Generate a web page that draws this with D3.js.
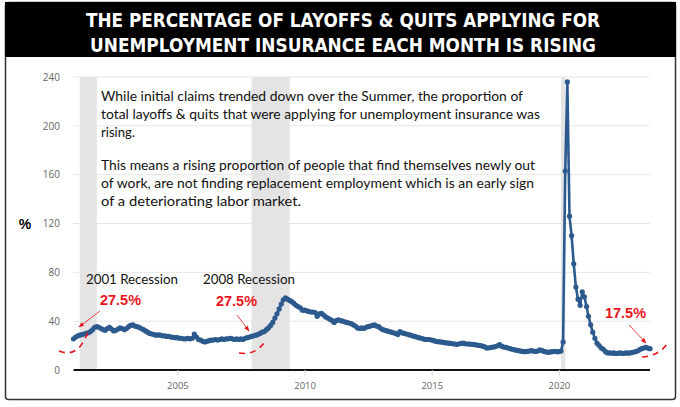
<!DOCTYPE html>
<html>
<head>
<meta charset="utf-8">
<script src="https://cdn.jsdelivr.net/npm/d3@7"></script>
<style>
  body { margin: 0; background: #fff; }
  svg { display: block; }
</style>
</head>
<body>
<div id="chart"></div>
<script>
// data: monthly share of layoffs & quits applying for UI (%), starting Dec 2000
const startMonth = new Date(2000, 11, 1);
const values = [
  25.5,
  27, 28, 28.5, 29, 29.5, 30, 30.5, 31.5, 33, 35, 35.5, 35,            // 2001
  34, 33, 32.5, 34, 35, 33.5, 32, 32.5, 33.5, 34.5, 34, 33,            // 2002
  34, 35.5, 36.5, 37, 36, 35.5, 35, 34, 33, 32, 31, 30,                // 2003
  29.5, 29, 28.5, 28.7, 28.5, 28, 28, 27.5, 27.5, 27, 26.8, 26.5,      // 2004
  26.5, 26, 26, 25.5, 25.5, 26, 25.5, 26, 29.5, 27, 25, 24.5,          // 2005
  23.5, 23, 23.5, 24, 24.5, 24.5, 25, 24.5, 25, 25.5, 25, 25.5,        // 2006
  25.5, 26, 25.5, 25, 25.5, 25, 25.5, 25, 26, 26.5, 27, 27.5,          // 2007
  28, 28.5, 29, 30, 31, 31.5, 33, 34.5, 36.5, 39, 42.5, 46,            // 2008
  50, 54, 57.5, 59, 58, 57, 56, 54.5, 53, 52, 51, 49,                  // 2009
  49, 48.5, 48, 47.5, 47.5, 47, 44, 46, 46.5, 45, 43.5, 42.5,          // 2010
  41.5, 40.5, 39, 40.5, 41, 40.5, 40, 39.5, 39, 38.5, 38, 37,          // 2011
  36, 34.5, 34, 34.5, 34, 35, 35.5, 36, 36.5, 37, 36, 35.5,            // 2012
  34, 33, 32.5, 32, 31.5, 31, 30.5, 30, 29, 31.5, 30.5, 30,            // 2013
  29.5, 29, 28.5, 28, 27.5, 27, 26.5, 26, 25.5, 25, 25, 25,            // 2014
  24.5, 24, 23.5, 23.2, 23, 22.8, 22.5, 22.2, 22, 21.8, 21.5, 21.2,    // 2015
  21, 21.5, 21.8, 22, 21.5, 21.3, 21.2, 21, 20.8, 20.5, 20.2, 20,      // 2016
  19.5, 19, 18, 18.2, 18.5, 18.8, 19.2, 19.8, 20.8, 19.5, 18.8, 18.5,  // 2017
  18, 17.5, 17, 16.5, 16.2, 15.8, 15.5, 15.2, 15, 15.2, 15.5, 15.8,    // 2018
  15.5, 15.2, 15.5, 16.5, 16, 15.2, 14.8, 14.5, 14.8, 15, 15.2, 15,    // 2019
  15, 15.5, 23, 163, 236, 126, 110, 87, 68, 58, 53, 64,                // 2020
  60, 52, 44, 37, 31, 26, 22, 20, 18, 17, 15, 14,                      // 2021
  14, 13.8, 14, 13.5, 13.8, 14, 13.5, 13.8, 14, 13.8, 14.2, 14.5,      // 2022
  15, 15.5, 16.5, 17.5, 18, 18.5, 18, 17.5                             // 2023
];
const recessions = [
  ["2001-03-01", "2001-11-01"],
  ["2007-12-01", "2009-06-01"],
  ["2020-02-01", "2020-04-01"]
];
const yTicks = [0, 40, 80, 120, 160, 200, 240];
const xTickYears = [2005, 2010, 2015, 2020];
const titleLines = [
  "THE PERCENTAGE OF LAYOFFS & QUITS APPLYING FOR",
  "UNEMPLOYMENT INSURANCE EACH MONTH IS RISING"
];
const noteLines = [
  "While initial claims trended down over the Summer, the proportion of",
  "total layoffs & quits that were applying for unemployment insurance was",
  "rising.",
  "",
  "This means a rising proportion of people that find themselves newly out",
  "of work, are not finding replacement employment which is an early sign",
  "of a deteriorating labor market."
];

const data = values.map((v, i) => ({ date: d3.timeMonth.offset(startMonth, i), value: v }));

const W = 680, H = 407;
const svg = d3.select("#chart").append("svg")
    .attr("width", W)
    .attr("height", H);

// frame + title banner
svg.append("rect")
    .attr("x", 5.5).attr("y", 2.5)
    .attr("width", 670).attr("height", 397)
    .attr("rx", 3)
    .attr("fill", "#fff")
    .attr("stroke", "#333")
    .attr("stroke-width", 1.5);

svg.append("rect")
    .attr("x", 5).attr("y", 2)
    .attr("width", 671).attr("height", 55)
    .attr("fill", "#000");

const titleWidths = [514, 506];
titleLines.forEach((t, i) => {
    svg.append("text")
        .attr("x", 343)
        .attr("y", 27 + i * 25)
        .attr("text-anchor", "middle")
        .attr("fill", "#fff")
        .style("font-family", "DejaVu Sans")
        .style("font-weight", "bold")
        .style("font-size", "19px")
        .attr("textLength", titleWidths[i])
        .attr("lengthAdjust", "spacingAndGlyphs")
        .text(t);
});

// scales
const x = d3.scaleTime()
    .domain([startMonth, data[data.length - 1].date])
    .range([73.5, 650]);

const y = d3.scaleLinear()
    .domain([0, 240])
    .range([370, 77]);

// recession bands
svg.selectAll("rect.rec")
    .data(recessions)
    .enter()
    .append("rect")
    .attr("class", "rec")
    .attr("x", d => x(new Date(d[0])))
    .attr("width", d => Math.max(2, x(new Date(d[1])) - x(new Date(d[0]))))
    .attr("y", y(240))
    .attr("height", y(0) - y(240))
    .attr("fill", "#e4e4e4");

// gridlines
svg.selectAll("line.grid")
    .data(yTicks.filter(d => d > 0))
    .enter()
    .append("line")
    .attr("x1", x.range()[0])
    .attr("x2", x.range()[1])
    .attr("y1", d => y(d))
    .attr("y2", d => y(d))
    .attr("stroke", "#e6e6e6")
    .attr("stroke-width", 1);

// y axis labels
const yAxis = svg.append("g")
    .attr("transform", "translate(" + 60 + ",0)")
    .call(d3.axisLeft(y).tickValues(yTicks).tickSize(0).tickPadding(0));
yAxis.select(".domain").remove();
yAxis.selectAll("text")
    .attr("fill", "#666")
    .style("font-family", "Open Sans")
    .style("font-size", "10px");

svg.append("text")
    .attr("x", 25)
    .attr("y", 229)
    .attr("text-anchor", "middle")
    .style("font-family", "Liberation Sans")
    .style("font-weight", "bold")
    .style("font-size", "14px")
    .text("%");

// x axis
const xAxis = svg.append("g")
    .attr("transform", "translate(0," + y(0) + ")")
    .call(d3.axisBottom(x)
        .tickValues(xTickYears.map(yr => new Date(yr, 0, 1)))
        .tickFormat(d3.timeFormat("%Y"))
        .tickSize(6)
        .tickPadding(6));
xAxis.select(".domain")
    .attr("stroke", "#111")
    .attr("stroke-width", 2)
    .attr("d", "M" + x.range()[0] + ",0H" + x.range()[1]);
xAxis.selectAll(".tick line").attr("stroke", "#ddd");
xAxis.selectAll("text")
    .attr("fill", "#666")
    .style("font-family", "Open Sans")
    .style("font-size", "9.5px");

// series
const line = d3.line()
    .x(d => x(d.date))
    .y(d => y(d.value));

svg.append("path")
    .datum(data)
    .attr("fill", "none")
    .attr("stroke", "#2c5a8e")
    .attr("stroke-width", 2.6)
    .attr("stroke-linejoin", "round")
    .attr("d", line);

svg.selectAll("circle.pt")
    .data(data)
    .enter()
    .append("circle")
    .attr("class", "pt")
    .attr("cx", d => x(d.date))
    .attr("cy", d => y(d.value))
    .attr("r", 2.6)
    .attr("fill", "#2c5a8e");

// note text
const noteWidths = [422, 439, 34, 0, 434, 433, 200];
const noteY = [101, 119, 137, 0, 170, 188, 206];
noteLines.forEach((t, i) => {
    if (!t) return;
    svg.append("text")
        .attr("x", 101)
        .attr("y", noteY[i])
        .style("font-family", "Lato")
        .style("font-size", "14px")
        .attr("fill", "#111")
        .attr("textLength", noteWidths[i])
        .attr("lengthAdjust", "spacingAndGlyphs")
        .text(t);
});

// recession labels
[["2001 Recession", 86], ["2008 Recession", 203]].forEach(d => {
    svg.append("text")
        .attr("x", d[1])
        .attr("y", 284)
        .style("font-family", "Lato")
        .style("font-size", "14px")
        .attr("fill", "#111")
        .attr("textLength", 92)
        .attr("lengthAdjust", "spacingAndGlyphs")
        .text(d[0]);
});

// red annotations
const red = "#e8141b";
svg.append("defs").append("marker")
    .attr("id", "arr")
    .attr("viewBox", "0 0 10 10")
    .attr("refX", 9).attr("refY", 5)
    .attr("markerWidth", 7).attr("markerHeight", 7)
    .attr("orient", "auto")
    .append("path")
    .attr("d", "M0,1L10,5L0,9Z")
    .attr("fill", red);

const callouts = [
    { label: "27.5%", tx: 100, ty: 305, a: [100, 311, 79, 327], arc: "M59,351Q78,359 88,332" },
    { label: "27.5%", tx: 216, ty: 306, a: [237, 315, 249, 331], arc: "M239,353Q256,356 266,340" },
    { label: "17.5%", tx: 605, ty: 318, a: [629, 325, 646, 343], arc: "M642,357Q660,356 669,341" }
];
callouts.forEach(c => {
    svg.append("text")
        .attr("x", c.tx)
        .attr("y", c.ty)
        .attr("fill", red)
        .style("font-family", "Liberation Sans")
        .style("font-weight", "bold")
        .style("font-size", "14px")
        .attr("textLength", 41)
        .attr("lengthAdjust", "spacingAndGlyphs")
        .text(c.label);
    svg.append("line")
        .attr("x1", c.a[0]).attr("y1", c.a[1])
        .attr("x2", c.a[2]).attr("y2", c.a[3])
        .attr("stroke", red)
        .attr("stroke-width", 0.8)
        .attr("marker-end", "url(#arr)");
    svg.append("path")
        .attr("d", c.arc)
        .attr("fill", "none")
        .attr("stroke", red)
        .attr("stroke-width", 1.6)
        .attr("stroke-dasharray", "6,5");
});
</script>
</body>
</html>
